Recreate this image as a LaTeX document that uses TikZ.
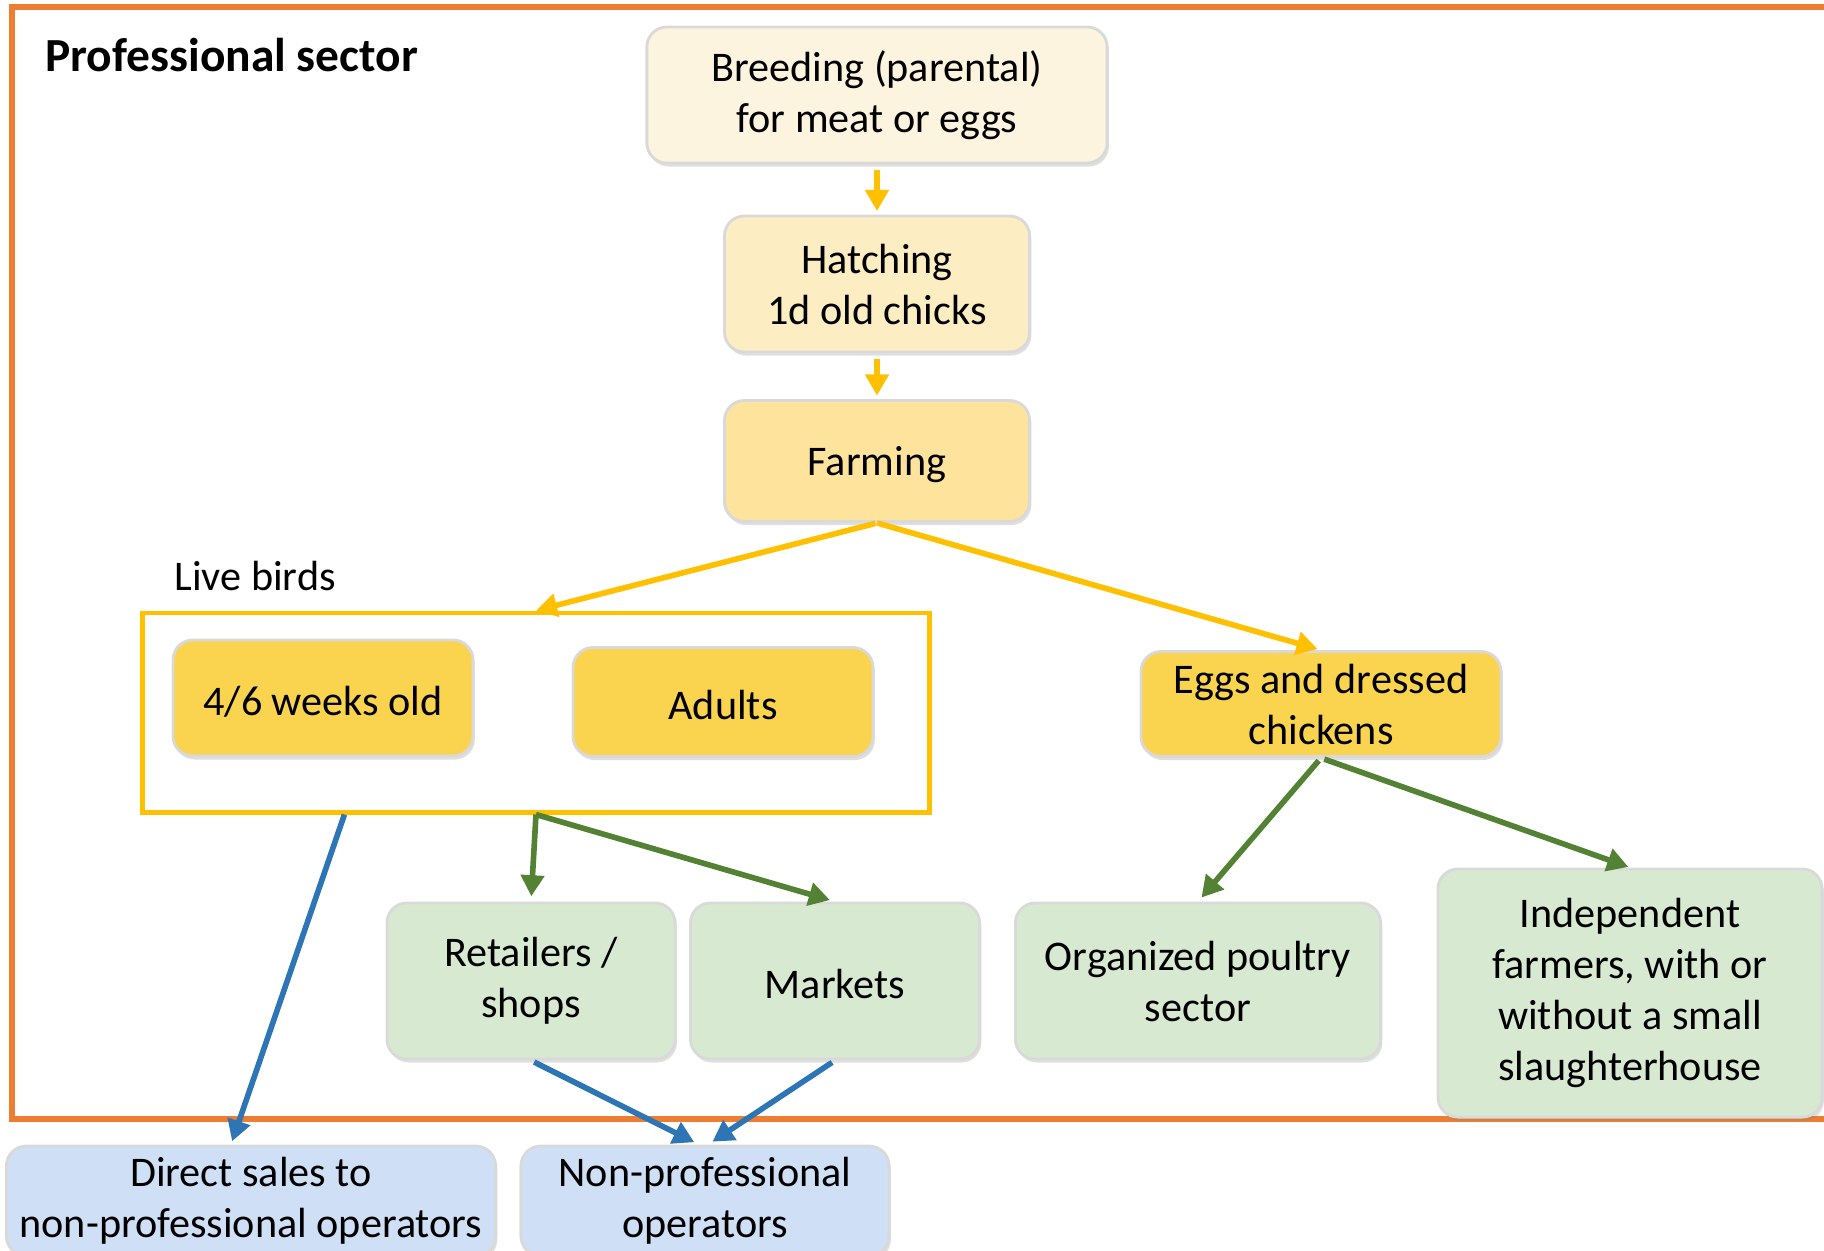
\documentclass[tikz,border=0pt]{standalone}
\usepackage{fontspec}
\setmainfont{Carlito}
\usetikzlibrary{arrows.meta,calc,shadows}

\definecolor{frameorange}{HTML}{ED7D31}
\definecolor{arrowyellow}{HTML}{FFC000}
\definecolor{arrowgreen}{HTML}{548235}
\definecolor{arrowblue}{HTML}{2E75B6}
\definecolor{creamfill}{HTML}{FCF4DF}
\definecolor{hatchfill}{HTML}{FDEDC2}
\definecolor{farmfill}{HTML}{FDE39C}
\definecolor{goldfill}{HTML}{FAD44F}
\definecolor{greenfill}{HTML}{D8E9D2}
\definecolor{bluefill}{HTML}{CFE0F6}

\begin{document}
\begin{tikzpicture}[x=0.01cm, y=-0.01cm,
    box/.style={rounded corners=0.2cm, draw=black!15, line width=0.8pt,
        align=center, inner sep=0pt, font=\fontsize{12}{14.5}\selectfont,
        execute at begin node={\rule{0pt}{10.2pt}},
        drop shadow={shadow xshift=0.5pt, shadow yshift=-1pt, opacity=0.25}},
    yarrow/.style={draw=arrowyellow, line width=1.6pt, -{Triangle[length=6pt,width=6.5pt]}},
    garrow/.style={draw=arrowgreen, line width=1.6pt, -{Triangle[length=6pt,width=6.5pt]}},
    barrow/.style={draw=arrowblue, line width=1.6pt, -{Triangle[length=6pt,width=6.5pt]}}]
    \clip (0,0) rectangle (1824,1250);

    % Cadre du secteur professionnel
    \draw[frameorange, line width=1.5pt] (12,7) rectangle (1850,1119);
    \node[anchor=west, font=\fontsize{13.5}{15.5}\selectfont\bfseries] (title) at (33,55) {Professional sector};

    % Filiere principale
    \node[box, fill=creamfill, minimum width=4.6cm, minimum height=1.36cm] (breed) at (877,95)
        {Breeding (parental)\\for meat or eggs};
    \node[box, fill=hatchfill, minimum width=3.05cm, minimum height=1.36cm] (hatch) at (877,284)
        {Hatching\\1d old chicks};
    \node[box, fill=farmfill, minimum width=3.05cm, minimum height=1.21cm] (farm) at (877,461)
        {Farming};

    % Oiseaux vivants
    \node[anchor=west, font=\fontsize{12}{14.5}\selectfont] (livelabel) at (162,576) {Live birds};
    \node[draw=arrowyellow, line width=1.4pt, minimum width=7.86cm, minimum height=1.99cm] (livebox) at (536,712.5) {};
    \node[box, fill=goldfill, minimum width=3cm, minimum height=1.16cm] (young) at (323,698)
        {4/6 weeks old};
    \node[box, fill=goldfill, minimum width=3cm, minimum height=1.09cm] (adults) at (723,702)
        {Adults};
    \node[box, fill=goldfill, minimum width=3.6cm, minimum height=1.05cm] (eggs) at (1321,704)
        {Eggs and dressed\\chickens};

    % Debouches
    \node[box, fill=greenfill, minimum width=2.88cm, minimum height=1.56cm] (retail) at (531,981)
        {Retailers /\\shops};
    \node[box, fill=greenfill, minimum width=2.89cm, minimum height=1.56cm] (market) at (835,981)
        {Markets};
    \node[box, fill=greenfill, minimum width=3.65cm, minimum height=1.56cm] (org) at (1198,981)
        {Organized poultry\\sector};
    \node[box, fill=greenfill, minimum width=3.84cm, minimum height=2.48cm] (indep) at (1630,993)
        {Independent\\farmers, with or\\without a small\\slaughterhouse};

    % Operateurs non professionnels
    \node[box, fill=bluefill, minimum width=4.89cm, minimum height=1.1cm] (direct) at (251,1201)
        {Direct sales to\\non-professional operators};
    \node[box, fill=bluefill, minimum width=3.68cm, minimum height=1.1cm] (nonprof) at (705,1201)
        {Non-professional\\operators};

    \coordinate (livefoot) at ([xshift=2.04cm]livebox.south west);
    \coordinate (directtop) at ([xshift=-0.2cm]direct.north);

    % Fleches
    \draw[yarrow, shorten <=1.5pt, shorten >=1pt] (breed.south) -- (hatch.north);
    \draw[yarrow, shorten <=1.5pt, shorten >=1pt] (hatch.south) -- (farm.north);
    \draw[yarrow, shorten <=0.5pt] (farm.south) -- (livebox.north);
    \draw[yarrow, shorten >=1pt] (farm.south) -- (eggs.north);
    \draw[garrow, shorten >=1.5pt] (livebox.south) -- (retail.north);
    \draw[garrow, shorten >=1.5pt] (livebox.south) -- (market.north);
    \draw[garrow, shorten <=1pt, shorten >=1.5pt] (eggs.south) -- (org.north);
    \draw[garrow, shorten <=1pt, shorten >=0.5pt] (eggs.south) -- (indep.north);
    \draw[barrow, shorten >=1pt] (livefoot) -- (directtop);
    \draw[barrow, shorten <=1pt, shorten >=1.5pt] (retail.south) -- ([xshift=-0.06cm]nonprof.north);
    \draw[barrow, shorten <=1pt, shorten >=1.5pt] (market.south) -- ([xshift=0.03cm]nonprof.north);
\end{tikzpicture}
\end{document}
